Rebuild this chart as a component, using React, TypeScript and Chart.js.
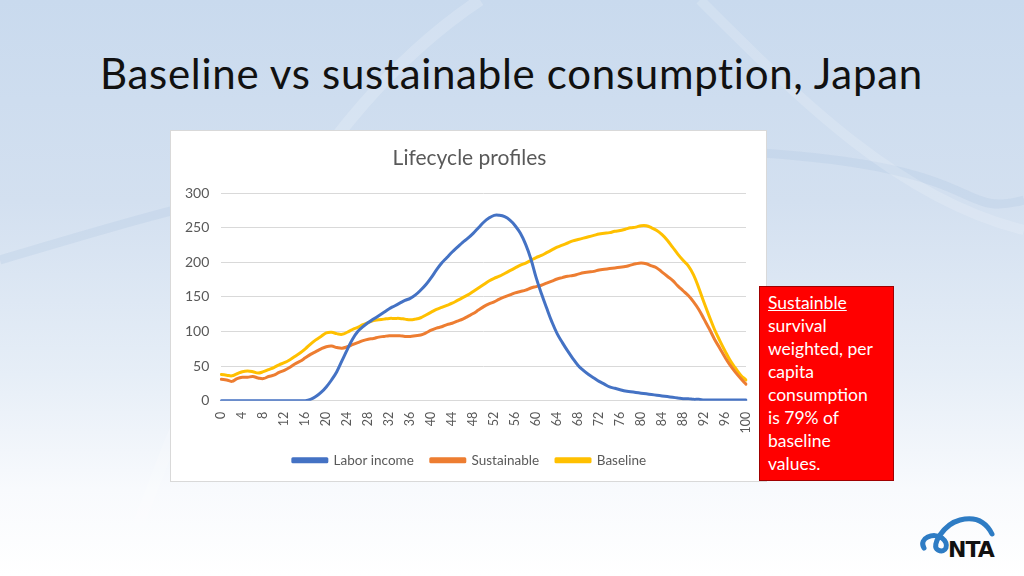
import React, { useEffect, useRef } from "react";
import { Chart, registerables } from "chart.js";

Chart.register(...registerables);

const FONT = "Lato, 'Open Sans', sans-serif";

const ages: string[] = Array.from({ length: 101 }, (_, i) => String(i));

const laborIncome: number[] = [
  0, 0, 0, 0, 0, 0, 0, 0, 0, 0,
  0, 0, 0, 0, 0, 0, 0, 2, 6, 12,
  20, 30, 42, 58, 74, 89, 100, 107, 113, 118,
  123, 128, 133, 137, 141, 145, 148, 153, 160, 168,
  178, 189, 199, 207, 215, 222, 229, 235, 242, 250,
  258, 264, 268, 268, 266, 261, 253, 242, 226, 205,
  178, 155, 134, 114, 97, 84, 72, 61, 51, 44,
  38, 33, 28, 24, 20, 18, 16, 14, 13, 12,
  11, 10, 9, 8, 7, 6, 5, 4, 3, 3,
  2, 2, 1, 1, 1, 1, 1, 1, 1, 1,
  1,
];

const sustainable: number[] = [
  31, 30, 28, 32, 34, 34, 35, 33, 32, 35,
  37, 41, 44, 48, 53, 57, 62, 67, 71, 75,
  78, 79, 77, 76, 78, 81, 84, 87, 89, 90,
  92, 93, 94, 94, 94, 93, 93, 94, 95, 98,
  102, 105, 107, 110, 112, 115, 118, 122, 126, 131,
  136, 140, 143, 147, 150, 153, 156, 158, 160, 163,
  165, 167, 170, 173, 176, 178, 180, 181, 183, 185,
  186, 187, 189, 190, 191, 192, 193, 194, 196, 198,
  199, 198, 195, 192, 186, 180, 174, 166, 159, 152,
  143, 132, 118, 104, 89, 76, 63, 51, 41, 32,
  24,
];

const baseline: number[] = [
  38, 37, 36, 39, 42, 43, 42, 40, 42, 45,
  48, 52, 55, 59, 64, 69, 75, 82, 88, 93,
  98, 99, 97, 96, 99, 103, 106, 110, 113, 116,
  117, 118, 119, 119, 119, 118, 117, 118, 120, 124,
  128, 132, 135, 138, 141, 145, 149, 153, 158, 163,
  168, 173, 177, 180, 184, 188, 192, 196, 199, 203,
  207, 210, 214, 218, 222, 225, 228, 231, 233, 235,
  237, 239, 241, 242, 243, 245, 246, 248, 250, 251,
  253, 253, 250, 246, 240, 232, 222, 212, 203, 195,
  182, 163, 142, 122, 103, 87, 72, 58, 47, 37,
  30,
];

const yTicks: number[] = [0, 50, 100, 150, 200, 250, 300];

const noteLines: string[] = [
  "survival",
  "weighted, per",
  "capita",
  "consumption",
  "is 79% of",
  "baseline",
  "values.",
];

function LifecycleChart() {
  const ref = useRef<HTMLCanvasElement | null>(null);
  useEffect(() => {
    if (!ref.current) return;
    const chart = new Chart(ref.current, {
      type: "line",
      data: {
        labels: ages,
        datasets: [
          { label: "Labor income", data: laborIncome, borderColor: "#4472c4", backgroundColor: "#4472c4" },
          { label: "Sustainable", data: sustainable, borderColor: "#ed7d31", backgroundColor: "#ed7d31" },
          { label: "Baseline", data: baseline, borderColor: "#ffc000", backgroundColor: "#ffc000" },
        ],
      },
      options: {
        responsive: false,
        maintainAspectRatio: false,
        animation: false,
        layout: { padding: { left: 2, right: 0, top: 0, bottom: 4 } },
        elements: {
          point: { radius: 0 },
          line: { borderWidth: 3, tension: 0.4, borderCapStyle: "round", borderJoinStyle: "round" },
        },
        plugins: {
          title: {
            display: true,
            text: "Lifecycle profiles",
            color: "#595959",
            font: { family: FONT, size: 21, weight: "normal" },
            padding: { top: 15, bottom: 22 },
          },
          legend: {
            position: "bottom",
            labels: {
              boxWidth: 34,
              boxHeight: 3,
              color: "#595959",
              font: { family: FONT, size: 13.5 },
              padding: 17,
            },
          },
          tooltip: { enabled: false },
        },
        scales: {
          x: {
            grid: { display: false },
            border: { color: "#d9d9d9" },
            ticks: {
              autoSkip: false,
              minRotation: 90,
              maxRotation: 90,
              color: "#595959",
              font: { family: FONT, size: 12.5 },
              callback: (_v: any, i: number) => (i % 4 === 0 ? ages[i] : null),
            },
          },
          y: {
            min: yTicks[0],
            max: yTicks[yTicks.length - 1],
            ticks: { stepSize: 50, color: "#595959", font: { family: FONT, size: 14 }, padding: 12 },
            grid: { color: "#d9d9d9", drawTicks: false },
            border: { display: false },
          },
          yRightSpace: {
            type: "linear",
            axis: "y",
            position: "right",
            min: yTicks[0],
            max: yTicks[yTicks.length - 1],
            grid: { display: false, drawTicks: false },
            ticks: { display: false },
            border: { display: false },
            afterFit: (scale: any) => {
              scale.width = 20;
            },
          },
        },
      },
    } as any);
    return () => chart.destroy();
  }, []);
  return <canvas ref={ref} width={595} height={350} style={{ display: "block" }} />;
}

export default function App() {
  return (
    <div
      style={{
        position: "fixed",
        left: 0,
        top: 0,
        width: 1024,
        height: 576,
        overflow: "hidden",
        background: "linear-gradient(to bottom, #c9daee 0%, #d3e0f0 35%, #e6eef7 65%, #f8fafd 85%, #ffffff 100%)",
        fontFamily: FONT,
      }}
    >
      <svg width={1024} height={576} style={{ position: "absolute", left: 0, top: 0 }}>
        <path d="M 120 576 C 200 350, 300 120, 480 0" stroke="rgba(255,255,255,0.18)" strokeWidth={12} fill="none" />
        <path d="M 0 260 C 200 200, 400 140, 700 150 S 950 220, 1024 200" stroke="rgba(170,195,225,0.25)" strokeWidth={9} fill="none" />
        <path d="M 700 0 C 800 100, 900 200, 1024 230" stroke="rgba(255,255,255,0.16)" strokeWidth={10} fill="none" />
      </svg>
      <div
        style={{
          position: "absolute",
          left: 100,
          top: 47,
          fontSize: 42,
          letterSpacing: 0.7,
          fontVariantLigatures: "none",
          color: "#111",
          whiteSpace: "nowrap",
          lineHeight: "52px",
        }}
      >
        Baseline vs sustainable consumption, Japan
      </div>
      <div
        style={{
          position: "absolute",
          left: 170,
          top: 130,
          width: 595,
          height: 350,
          background: "#fff",
          border: "1px solid #d9d9d9",
        }}
      >
        <LifecycleChart />
      </div>
      <div
        style={{
          position: "absolute",
          left: 759,
          top: 286,
          width: 135,
          height: 195,
          background: "#ff0000",
          border: "1px solid #a00000",
          color: "#fff",
          fontSize: 17.5,
          lineHeight: "23px",
          padding: "4px 0 0 8px",
          boxSizing: "border-box",
        }}
      >
        <div style={{ textDecoration: "underline" }}>Sustainble</div>
        {noteLines.map((l) => (
          <div key={l}>{l}</div>
        ))}
      </div>
      <svg width={100} height={56} style={{ position: "absolute", left: 916, top: 510 }}>
        <path
          d="M 8 38 C 2 28, 18 22, 26 28 C 34 34, 30 44, 22 40 C 14 36, 28 14, 44 10 C 60 6, 70 12, 76 24"
          stroke="#2e7cc4"
          strokeWidth={5}
          fill="none"
          strokeLinecap="round"
        />
        <text x={32} y={47} fontSize={22} fontWeight={900} fontFamily="'DejaVu Sans', sans-serif" fill="#111" letterSpacing={-1}>
          NTA
        </text>
      </svg>
    </div>
  );
}
